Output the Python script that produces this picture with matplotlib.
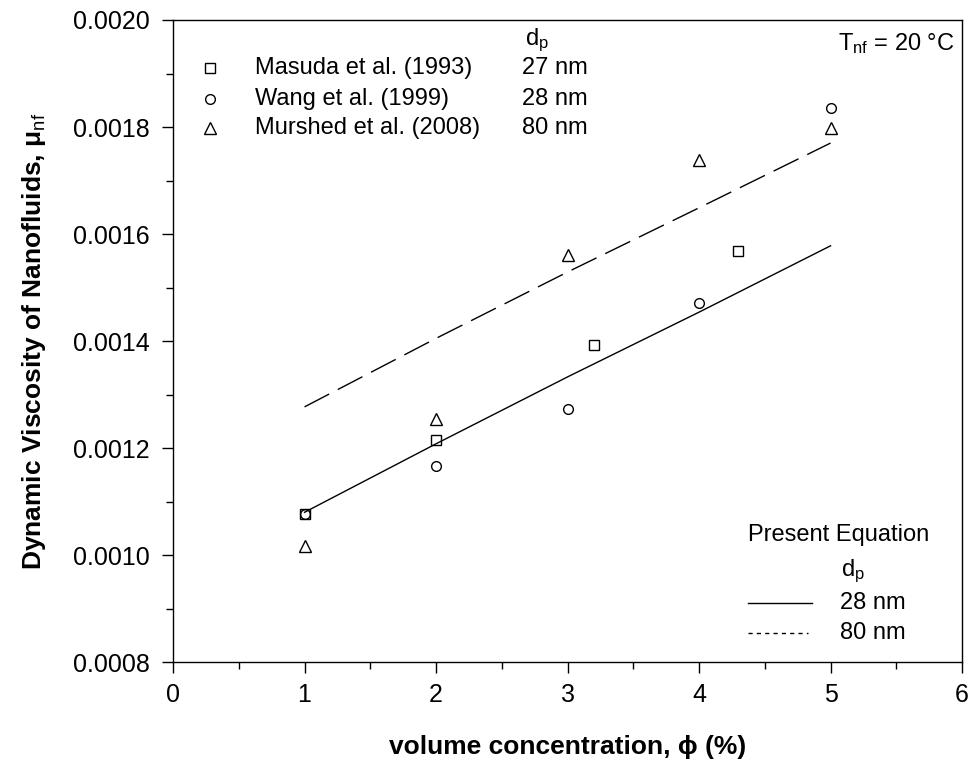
import matplotlib
matplotlib.use("Agg")
import matplotlib.pyplot as plt
from matplotlib.ticker import MultipleLocator, FormatStrFormatter
from matplotlib.lines import Line2D

plt.rcParams['font.family'] = ['Liberation Sans', 'DejaVu Sans']
plt.rcParams['mathtext.fontset'] = 'custom'
plt.rcParams['mathtext.rm'] = 'Liberation Sans'
plt.rcParams['mathtext.it'] = 'Liberation Sans:italic'

# Experimental data
masuda_x = [1.0, 2.0, 3.2, 4.3]
masuda_y = [0.001077, 0.001215, 0.001393, 0.001568]
wang_x = [1.0, 2.0, 3.0, 4.0, 5.0]
wang_y = [0.001077, 0.001166, 0.001273, 0.001471, 0.001836]
murshed_x = [1.0, 2.0, 3.0, 4.0, 5.0]
murshed_y = [0.001017, 0.001254, 0.001561, 0.001738, 0.001798]

# Present equation curves
eq_x = [1.0, 2.0, 3.0, 4.0, 5.0]
eq28_y = [0.001080, 0.001208, 0.001333, 0.001454, 0.001578]
eq80_y = [0.001277, 0.001405, 0.001529, 0.001649, 0.001770]

legend_studies = ["Masuda et al. (1993)", "Wang et al. (1999)", "Murshed et al. (2008)"]
legend_dp = ["27 nm", "28 nm", "80 nm"]
legend_markers = ["s", "o", "^"]

fig = plt.figure(figsize=(9.70, 7.69), dpi=100)
ax = fig.add_axes([0.1784, 0.139, 0.8134, 0.835])

ax.plot(eq_x, eq28_y, color='black', lw=1.0)
ax.plot(eq_x, eq80_y, color='black', lw=1.0, dashes=(20, 7))

mk = dict(linestyle='none', markerfacecolor='none', markeredgecolor='black', markeredgewidth=1.0)
ax.plot(masuda_x, masuda_y, marker='s', markersize=7, **mk)
ax.plot(wang_x, wang_y, marker='o', markersize=7, **mk)
ax.plot(murshed_x, murshed_y, marker='^', markersize=9, **mk)

ax.set_xlim(0, 6)
ax.set_ylim(0.0008, 0.0020)
ax.xaxis.set_major_locator(MultipleLocator(1))
ax.xaxis.set_minor_locator(MultipleLocator(0.5))
ax.yaxis.set_major_locator(MultipleLocator(0.0002))
ax.yaxis.set_minor_locator(MultipleLocator(0.0001))
ax.yaxis.set_major_formatter(FormatStrFormatter('%.4f'))
ax.tick_params(which='major', direction='out', length=8, width=1, labelsize=18, pad=7)
ax.tick_params(axis='y', which='major', pad=9)
ax.tick_params(which='minor', direction='out', length=5, width=1)
ax.tick_params(top=False, right=False)
for s in ax.spines.values():
    s.set_linewidth(1.0)

ax.set_xlabel('volume concentration, \u03d5 (%)', fontsize=19, fontweight='bold', labelpad=20)
ax.set_ylabel('Dynamic Viscosity of Nanofluids, \u03bc$_{\\rm nf}$', fontsize=19,
              fontweight='bold', labelpad=18)

# Top-left legend
tr = ax.transAxes
rows_y = [0.925, 0.877, 0.832]
for yy, m, lab, dp in zip(rows_y, legend_markers, legend_studies, legend_dp):
    ax.add_line(Line2D([0.047], [yy], transform=tr, marker=m,
                       markersize=9 if m == '^' else 7, **mk))
    ax.text(0.104, yy, lab, transform=tr, fontsize=17, va='center', ha='left')
    ax.text(0.442, yy, dp, transform=tr, fontsize=17, va='center', ha='left')
ax.text(0.446, 0.968, r'd$_{\rm p}$', transform=tr, fontsize=17, va='center', ha='left')

ax.text(0.991, 0.964, 'T$_{\\rm nf}$ = 20 \u00b0C', transform=tr,
        fontsize=17, va='center', ha='right')

# Bottom-right legend
ax.text(0.729, 0.198, 'Present Equation', transform=tr, fontsize=17, va='center', ha='left')
ax.text(0.847, 0.142, r'd$_{\rm p}$', transform=tr, fontsize=17, va='center', ha='left')
ax.add_line(Line2D([0.729, 0.810], [0.092, 0.092], transform=tr, color='black', lw=1.0))
ax.text(0.845, 0.092, '28 nm', transform=tr, fontsize=17, va='center', ha='left')
ax.add_line(Line2D([0.729, 0.805], [0.045, 0.045], transform=tr, color='black', lw=1.0,
                   dashes=(3, 3)))
ax.text(0.845, 0.045, '80 nm', transform=tr, fontsize=17, va='center', ha='left')

fig.savefig('out.png', dpi=100)
